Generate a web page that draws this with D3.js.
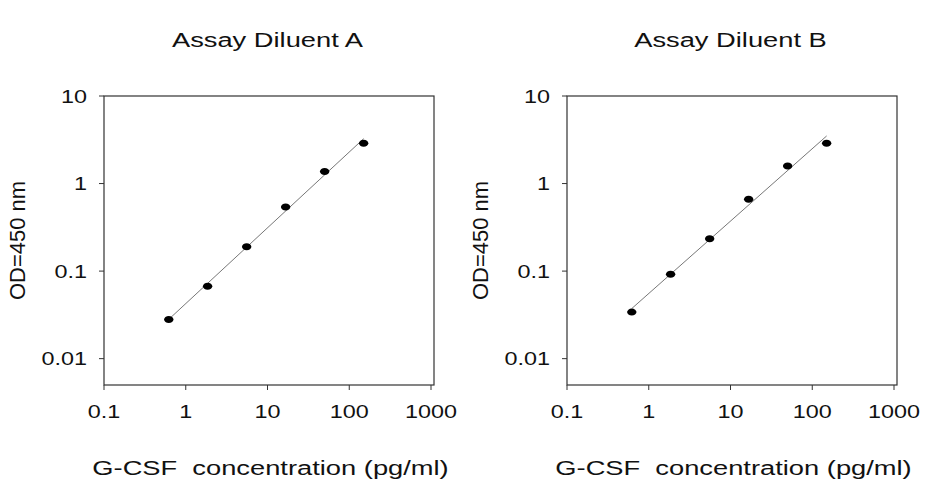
<!DOCTYPE html>
<html>
<head>
<meta charset="utf-8">
<script src="https://cdn.jsdelivr.net/npm/d3@7"></script>
<style>
  body { margin: 0; background: #fff; }
  text { font-family: "Liberation Sans", Arial, sans-serif; fill: #111; }
</style>
</head>
<body>
<script>
var width = 926,
    height = 480;

// standard curve data (G-CSF, pg/ml vs OD 450 nm)
var concentration = [0.62, 1.85, 5.56, 16.67, 50, 150];
var odDiluentA = [0.028, 0.067, 0.19, 0.54, 1.37, 2.88];
var odDiluentB = [0.034, 0.092, 0.234, 0.66, 1.59, 2.88];
var panelTitles = ["Assay Diluent A", "Assay Diluent B"];
var xTicks = [0.1, 1, 10, 100, 1000];
var yTicks = [0.01, 0.1, 1, 10];
var xTitle = "G-CSF  concentration (pg/ml)";
var yTitle = "OD=450 nm";

var stretch = 1.3; // text in the picture is drawn wide

var panels = [
  { title: panelTitles[0], od: odDiluentA, left: 104 },
  { title: panelTitles[1], od: odDiluentB, left: 567 }
];

var plotW = 327,
    plotTop = 96,
    plotBottom = 385;

var svg = d3.select("body").append("svg")
    .attr("width", width)
    .attr("height", height);

panels.forEach(function(p) {
  var x = d3.scaleLog().domain([0.1, 1000]).range([p.left, p.left + plotW]),
      y = d3.scaleLog().domain([0.005, 10]).range([plotBottom, plotTop]);

  var g = svg.append("g");
  var right = p.left + plotW + 3,
      cx = (p.left + p.left + plotW) / 2;

  // frame
  g.append("rect")
      .attr("x", p.left)
      .attr("y", plotTop)
      .attr("width", right - p.left)
      .attr("height", plotBottom - plotTop)
      .attr("fill", "none")
      .attr("stroke", "#333")
      .attr("stroke-width", 1.2);

  // x ticks
  g.selectAll(".xt")
      .data(xTicks)
      .enter().append("line")
      .attr("x1", function(d) { return x(d); })
      .attr("x2", function(d) { return x(d); })
      .attr("y1", plotBottom)
      .attr("y2", plotBottom + 5)
      .attr("stroke", "#333");

  g.selectAll(".xl")
      .data(xTicks)
      .enter().append("text")
      .attr("transform", function(d) {
        return "translate(" + x(d) + "," + 418 + ") scale(" + stretch + ",1)";
      })
      .attr("text-anchor", "middle")
      .attr("font-size", 18)
      .text(function(d) { return d; });

  // y ticks
  g.selectAll(".yt")
      .data(yTicks)
      .enter().append("line")
      .attr("x1", p.left - 5)
      .attr("x2", p.left)
      .attr("y1", function(d) { return y(d); })
      .attr("y2", function(d) { return y(d); })
      .attr("stroke", "#333");

  g.selectAll(".yl")
      .data(yTicks)
      .enter().append("text")
      .attr("transform", function(d) {
        return "translate(" + (p.left - 17) + "," + (y(d) + 6.5) + ") scale(" + stretch + ",1)";
      })
      .attr("text-anchor", "end")
      .attr("font-size", 18)
      .text(function(d) { return d; });

  // fitted line, linear regression in log-log space
  var lx = concentration.map(Math.log10),
      ly = p.od.map(Math.log10),
      mx = d3.mean(lx),
      my = d3.mean(ly),
      slope = d3.sum(lx, function(v, i) { return (v - mx) * (ly[i] - my); }) /
              d3.sum(lx, function(v) { return (v - mx) * (v - mx); });
  var ends = [concentration[0], concentration[concentration.length - 1]];

  g.append("path")
      .datum(ends)
      .attr("fill", "none")
      .attr("stroke", "#777")
      .attr("stroke-width", 1)
      .attr("d", d3.line()
          .x(function(d) { return x(d); })
          .y(function(d) { return y(Math.pow(10, my + slope * (Math.log10(d) - mx))); }));

  // points
  g.selectAll(".pt")
      .data(concentration)
      .enter().append("ellipse")
      .attr("cx", function(d) { return x(d); })
      .attr("cy", function(d, i) { return y(p.od[i]); })
      .attr("rx", 4.7)
      .attr("ry", 3.5)
      .attr("fill", "#000");

  // titles
  g.append("text")
      .attr("transform", "translate(" + cx + ",46.5) scale(" + stretch + ",1)")
      .attr("text-anchor", "middle")
      .attr("font-size", 21)
      .text(p.title);

  g.append("text")
      .attr("transform", "translate(" + (cx + 3) + ",475) scale(" + stretch + ",1)")
      .attr("text-anchor", "middle")
      .attr("font-size", 21)
      .style("white-space", "pre")
      .text(xTitle);

  g.append("text")
      .attr("transform", "translate(" + (p.left - 79) + "," + ((plotTop + plotBottom) / 2) + ") rotate(-90)")
      .attr("text-anchor", "middle")
      .attr("font-size", 22)
      .text(yTitle);
});
</script>
</body>
</html>
